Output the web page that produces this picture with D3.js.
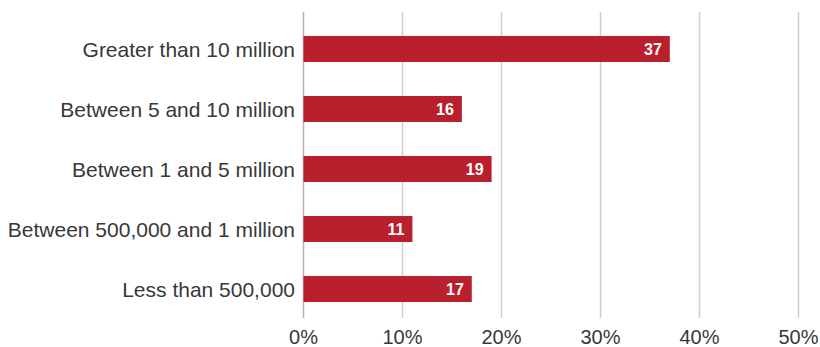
<!DOCTYPE html>
<html>
<head>
<meta charset="utf-8">
<script src="https://cdn.jsdelivr.net/npm/d3@7"></script>
<style>
  html, body { margin: 0; padding: 0; background: #fff; }
  svg { display: block; }
</style>
</head>
<body>
<svg id="chart" width="820" height="347"></svg>
<script>
// Share of respondents by company size
const categories = [
  "Greater than 10 million",
  "Between 5 and 10 million",
  "Between 1 and 5 million",
  "Between 500,000 and 1 million",
  "Less than 500,000"
];
const values = [37, 16, 19, 11, 17];
const tickValues = [0, 10, 20, 30, 40, 50];
const tickLabels = ["0%", "10%", "20%", "30%", "40%", "50%"];

const svg = d3.select("#chart");
const font = "'Liberation Sans', Arial, Helvetica, sans-serif";

const x = d3.scaleLinear().domain([0, 50]).range([303.5, 798.5]);
const y = d3.scaleBand()
  .domain(categories)
  .range([19, 319])
  .paddingInner(0.567)
  .paddingOuter(0.283);

const gridTop = 12, gridBottom = 318;

// vertical gridlines
svg.append("g")
  .selectAll("line")
  .data(tickValues)
  .join("line")
  .attr("x1", d => x(d)).attr("x2", d => x(d))
  .attr("y1", gridTop).attr("y2", gridBottom)
  .attr("stroke", d => d === 0 ? "#b9b0aa" : "#d3cbc6")
  .attr("stroke-width", 1.5);

// bottom tick labels
svg.append("g")
  .selectAll("text")
  .data(tickValues)
  .join("text")
  .attr("x", d => x(d))
  .attr("y", 344)
  .attr("text-anchor", "middle")
  .attr("font-family", font)
  .attr("font-size", 20)
  .attr("fill", "#383838")
  .text((d, i) => tickLabels[i]);

// bars
svg.append("g")
  .selectAll("rect")
  .data(values)
  .join("rect")
  .attr("x", x(0))
  .attr("y", (d, i) => y(categories[i]))
  .attr("width", d => x(d) - x(0))
  .attr("height", y.bandwidth())
  .attr("fill", "#ba1f2e");

// value labels inside bars
svg.append("g")
  .selectAll("text")
  .data(values)
  .join("text")
  .attr("x", d => x(d) - 8)
  .attr("y", (d, i) => y(categories[i]) + y.bandwidth() / 2)
  .attr("dy", "0.36em")
  .attr("text-anchor", "end")
  .attr("font-family", font)
  .attr("font-weight", "bold")
  .attr("font-size", 16)
  .attr("fill", "#fff")
  .text(d => d);

// category labels
svg.append("g")
  .selectAll("text")
  .data(categories)
  .join("text")
  .attr("x", 295)
  .attr("y", d => y(d) + y.bandwidth() / 2)
  .attr("dy", "0.36em")
  .attr("text-anchor", "end")
  .attr("font-family", font)
  .attr("font-size", 21)
  .attr("fill", "#383838")
  .text(d => d);
</script>
</body>
</html>
